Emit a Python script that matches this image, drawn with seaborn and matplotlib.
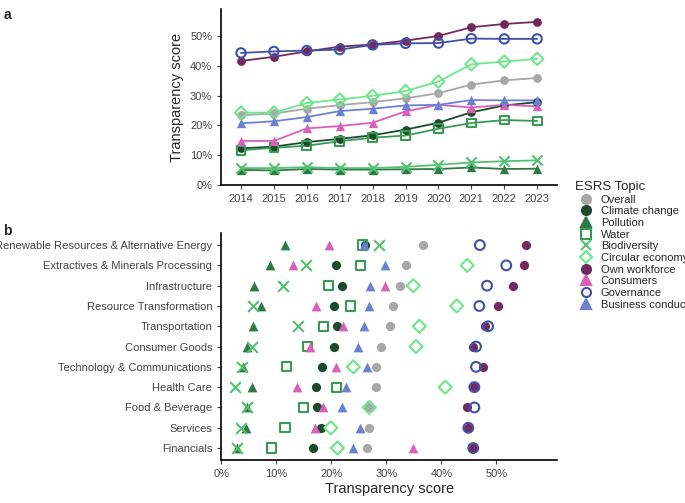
import numpy as np
import pandas as pd
import matplotlib
matplotlib.use("Agg")
import matplotlib.pyplot as plt
import seaborn as sns
from matplotlib.ticker import PercentFormatter
from matplotlib.lines import Line2D

sns.set_style("ticks")
plt.rcParams['font.family'] = ['Liberation Sans', 'DejaVu Sans']

years = list(range(2014, 2024))
topics = ["Overall", "Climate change", "Pollution", "Water", "Biodiversity",
          "Circular economy", "Own workforce", "Consumers", "Governance", "Business conduct"]

ts_overall = [23.4, 24.0, 25.6, 26.8, 27.8, 29.1, 30.8, 33.7, 35.1, 35.9]
ts_climate = [12.3, 12.9, 14.4, 15.5, 16.7, 18.6, 20.9, 24.4, 26.7, 27.8]
ts_pollution = [5.1, 4.9, 5.4, 5.2, 5.2, 5.3, 5.4, 5.9, 5.4, 5.5]
ts_water = [11.7, 12.5, 13.2, 14.7, 15.9, 16.6, 18.9, 20.8, 21.8, 21.5]
ts_biodiv = [5.7, 5.7, 6.0, 5.7, 5.7, 6.1, 6.8, 7.6, 8.0, 8.3]
ts_circular = [24.3, 24.3, 27.5, 28.7, 29.9, 31.5, 34.7, 40.5, 41.4, 42.3]
ts_workforce = [41.6, 43.0, 44.8, 46.4, 47.1, 48.4, 50.0, 52.9, 54.0, 54.7]
ts_consumers = [14.8, 14.8, 19.0, 19.8, 20.9, 24.7, 26.9, 26.0, 26.9, 26.4]
ts_governance = [44.3, 44.8, 45.1, 45.4, 47.0, 47.5, 47.6, 49.1, 49.0, 49.0]
ts_business = [20.7, 21.4, 22.8, 24.8, 25.6, 26.7, 26.9, 28.5, 28.4, 28.4]
ts_all = [ts_overall, ts_climate, ts_pollution, ts_water, ts_biodiv,
          ts_circular, ts_workforce, ts_consumers, ts_governance, ts_business]

sectors = ["Renewable Resources & Alternative Energy", "Extractives & Minerals Processing",
           "Infrastructure", "Resource Transformation", "Transportation", "Consumer Goods",
           "Technology & Communications", "Health Care", "Food & Beverage", "Services", "Financials"]
sec_overall = [36.7, 33.6, 32.4, 31.2, 30.6, 29.1, 28.1, 28.1, 26.9, 26.9, 26.5]
sec_climate = [26.2, 20.9, 21.9, 20.5, 21.0, 20.4, 18.3, 17.2, 17.4, 18.1, 16.6]
sec_pollution = [11.5, 8.9, 6.0, 7.2, 5.7, 4.6, 3.9, 5.6, 4.6, 4.5, 2.8]
sec_water = [25.7, 25.3, 19.5, 23.5, 18.6, 15.7, 11.8, 21.0, 15.0, 11.6, 9.2]
sec_biodiv = [28.7, 15.4, 11.3, 5.7, 13.9, 5.5, 3.8, 2.5, 4.7, 3.6, 2.8]
sec_circular = [np.nan, 44.7, 34.9, 42.8, 36.0, 35.4, 24.0, 40.7, 26.9, 19.9, 21.1]
sec_workforce = [55.4, 55.0, 53.1, 50.3, 48.0, 45.7, 47.5, 46.0, 44.7, 44.9, 45.8]
sec_consumers = [19.5, 13.0, 29.8, 17.2, 22.1, 16.2, 20.9, 13.8, 18.4, 17.1, 34.9]
sec_governance = [47.0, 51.8, 48.3, 46.9, 48.5, 46.3, 46.3, 46.0, 46.0, 44.9, 45.8]
sec_business = [26.0, 29.7, 27.1, 26.9, 26.0, 24.8, 26.5, 22.7, 21.9, 25.3, 23.9]
sec_all = [sec_overall, sec_climate, sec_pollution, sec_water, sec_biodiv,
           sec_circular, sec_workforce, sec_consumers, sec_governance, sec_business]

colors = ["#a8a8a8", "#1c4a2c", "#2e7a45", "#3a9a55", "#52c270",
          "#6ee68c", "#722a5e", "#d860b8", "#3f52a8", "#6a80d4"]
markers = ["o", "o", "^", "s", "x", "D", "o", "^", "o", "^"]
hollow = [False, False, False, True, False, True, False, False, True, False]
sizes = [40, 40, 45, 40, 55, 40, 40, 45, 45, 45]

fig = plt.figure(figsize=(6.85, 5.03), dpi=100)
ax1 = fig.add_axes([0.323, 0.632, 0.49, 0.35])
ax2 = fig.add_axes([0.323, 0.085, 0.49, 0.452])

for vals, c, m, h, s, t in zip(ts_all, colors, markers, hollow, sizes, topics):
    df = pd.DataFrame({"year": years, "v": vals})
    sns.lineplot(data=df, x="year", y="v", ax=ax1, color=c, lw=1.3)
    kw = dict(facecolors="none", edgecolors=c, linewidths=1.5) if h else dict(color=c, linewidth=1.5 if m == "x" else 0)
    sns.scatterplot(data=df, x="year", y="v", ax=ax1, marker=m, s=s, zorder=3, **kw)

ax1.set_xlim(2013.4, 2023.6)
ax1.set_ylim(0, 59)
ax1.set_xticks(years)
ax1.set_yticks([0, 10, 20, 30, 40, 50])
ax1.yaxis.set_major_formatter(PercentFormatter(decimals=0))
ax1.set_xlabel("")
ax1.set_ylabel("Transparency score", fontsize=10.5)

ypos = np.arange(len(sectors))[::-1]
for vals, c, m, h, s, t in zip(sec_all, colors, markers, hollow, sizes, topics):
    df = pd.DataFrame({"v": vals, "y": ypos})
    kw = dict(facecolors="none", edgecolors=c, linewidths=1.5) if h else dict(color=c, linewidth=1.5 if m == "x" else 0)
    sns.scatterplot(data=df, x="v", y="y", ax=ax2, marker=m, s=s * 1.1, zorder=3, **kw)
ax2.set_yticks(ypos)
ax2.set_yticklabels(sectors)
ax2.set_ylim(-0.6, len(sectors) - 0.4)
ax2.set_xlim(0, 61)
ax2.set_xticks([0, 10, 20, 30, 40, 50])
ax2.xaxis.set_major_formatter(PercentFormatter(decimals=0))
ax2.set_xlabel("Transparency score", fontsize=10.5, labelpad=2)
ax2.set_ylabel("")

for ax in (ax1, ax2):
    sns.despine(ax=ax)
    ax.tick_params(labelsize=8, colors="#444444", length=3)
    for sp in ("left", "bottom"):
        ax.spines[sp].set_linewidth(1.2)
        ax.spines[sp].set_color("black")

handles = []
for c, m, h, t in zip(colors, markers, hollow, topics):
    handles.append(Line2D([0], [0], color=c, marker=m, lw=0, markersize=6.5,
                          markerfacecolor="none" if h else c, markeredgecolor=c,
                          markeredgewidth=1.5, label=t))
fig.legend(handles=handles, title="ESRS Topic", loc="upper left",
           bbox_to_anchor=(0.825, 0.66), frameon=False, fontsize=8,
           title_fontsize=9.5, handletextpad=0.3, labelspacing=0.15, alignment="left")

fig.text(0.005, 0.985, "a", fontweight="bold", fontsize=10, va="top")
fig.text(0.005, 0.555, "b", fontweight="bold", fontsize=10, va="top")

fig.savefig("out.png", dpi=100)
